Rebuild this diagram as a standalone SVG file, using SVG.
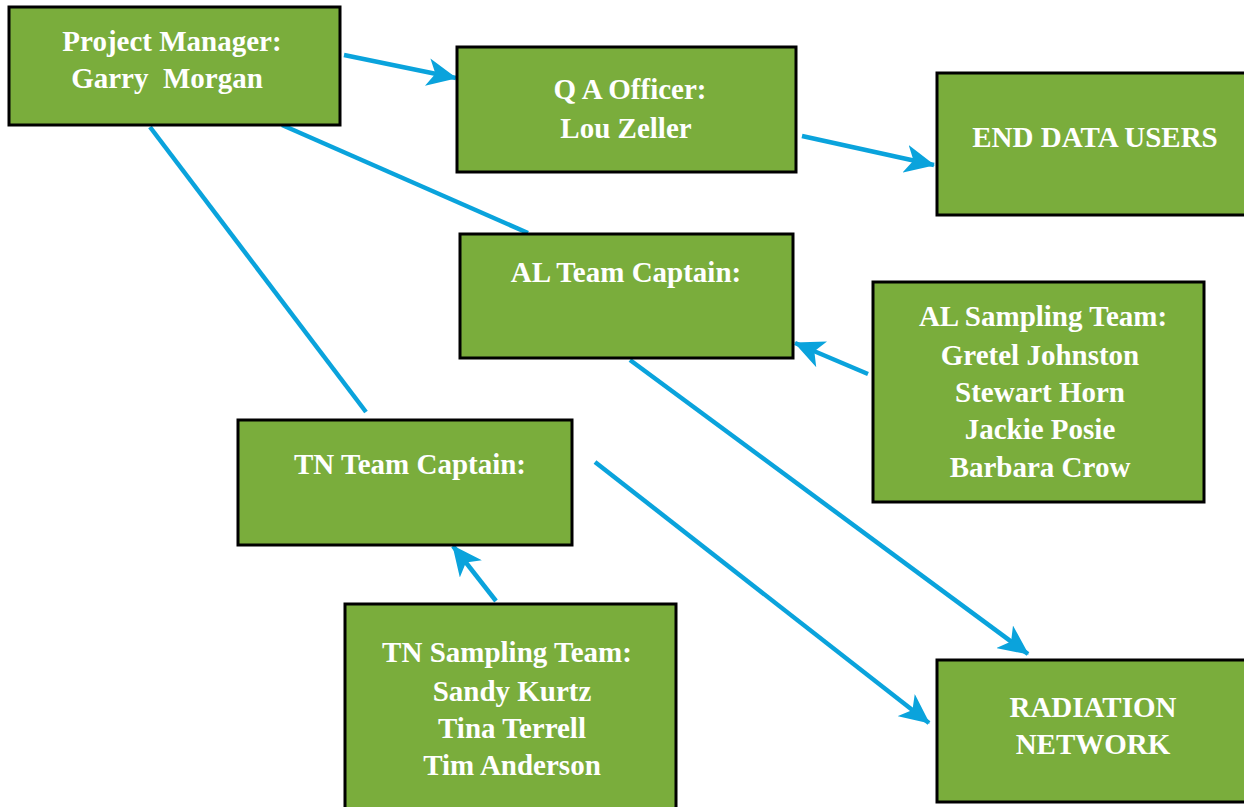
<svg xmlns="http://www.w3.org/2000/svg" width="1244" height="807" viewBox="0 0 1244 807">
<defs>
<style>
.box{fill:#7aad3c;stroke:#000;stroke-width:3}
.t{font-family:"Liberation Serif","Times New Roman",serif;font-weight:bold;font-size:29px;fill:#fff;text-anchor:middle}
.c{stroke:#0aa3dc;stroke-width:4.5;fill:none}
.a{marker-end:url(#ah)}
</style>
<marker id="ah" markerUnits="userSpaceOnUse" viewBox="0 0 30 28" refX="29" refY="14" markerWidth="30" markerHeight="28" orient="auto">
<path d="M0,0 L30,14 L0,28 L8,14 Z" fill="#0aa3dc"/>
</marker>
</defs>
<rect width="1244" height="807" fill="#fff"/>
<g id="connectors">
<line class="c a" x1="344" y1="55" x2="456" y2="78"/>
<line class="c a" x1="802" y1="136" x2="934" y2="165"/>
<line class="c" x1="282" y1="125" x2="528" y2="233"/>
<line class="c" x1="150" y1="127" x2="366" y2="412"/>
<line class="c a" x1="868" y1="374" x2="795" y2="343"/>
<line class="c a" x1="496" y1="601" x2="453" y2="546"/>
<line class="c a" x1="630" y1="360" x2="1028" y2="654"/>
<line class="c a" x1="595" y1="462" x2="929" y2="723"/>
</g>
<g id="pm">
<rect class="box" x="9" y="7" width="331" height="118"/>
<text class="t" x="172" y="51">Project Manager:</text>
<text class="t" x="167" y="88" xml:space="preserve">Garry  Morgan</text>
</g>
<g id="qa">
<rect class="box" x="457" y="47" width="339" height="125"/>
<text class="t" x="630" y="99">Q A Officer:</text>
<text class="t" x="626" y="138">Lou Zeller</text>
</g>
<g id="end">
<rect class="box" x="937" y="73" width="310" height="142"/>
<text class="t" x="1095" y="147">END DATA USERS</text>
</g>
<g id="alcap">
<rect class="box" x="460" y="234" width="333" height="124"/>
<text class="t" x="626" y="282">AL Team Captain:</text>
</g>
<g id="alsamp">
<rect class="box" x="873" y="282" width="331" height="220"/>
<text class="t" x="1043" y="326">AL Sampling Team:</text>
<text class="t" x="1040" y="365">Gretel Johnston</text>
<text class="t" x="1040" y="402">Stewart Horn</text>
<text class="t" x="1040" y="439">Jackie Posie</text>
<text class="t" x="1040" y="477">Barbara Crow</text>
</g>
<g id="tncap">
<rect class="box" x="238" y="420" width="334" height="125"/>
<text class="t" x="410" y="474">TN Team Captain:</text>
</g>
<g id="tnsamp">
<rect class="box" x="345" y="604" width="331" height="210"/>
<text class="t" x="507" y="662">TN Sampling Team:</text>
<text class="t" x="512" y="701">Sandy Kurtz</text>
<text class="t" x="512" y="738">Tina Terrell</text>
<text class="t" x="512" y="775">Tim Anderson</text>
</g>
<g id="rad">
<rect class="box" x="937" y="660" width="310" height="142"/>
<text class="t" x="1093" y="717">RADIATION</text>
<text class="t" x="1093" y="754">NETWORK</text>
</g>
</svg>
